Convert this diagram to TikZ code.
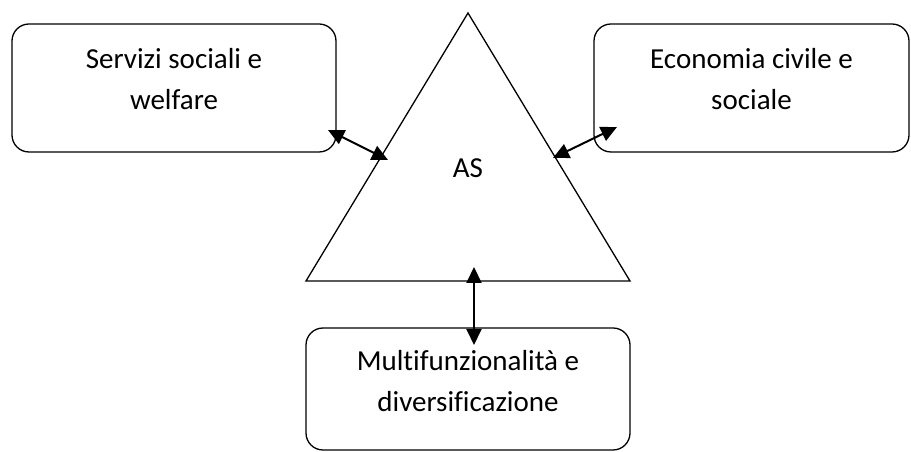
\documentclass[tikz,border=0pt]{standalone}
\usepackage{fontspec}
\setmainfont{Carlito}[Ligatures=NoCommon]
\usepackage{tikz}
\usetikzlibrary{shapes,arrows.meta,positioning,calc}
\tikzset{
	x=1pt, y=1pt, % one unit is one pixel of the layout
	box/.style={draw, line width=1.3pt, rounded corners=17pt, align=center, text height=50pt, text depth=6pt, font=\fontsize{29}{41}\selectfont}, % the three rounded boxes, text set near the top
	link/.style={<->, >={Triangle[length=16pt, width=15pt]}, line width=2pt}, % double headed arrows
}

\begin{document}
\begin{tikzpicture}
	\useasboundingbox (0,0) rectangle (911,452);
	\node[box, minimum width=324pt, minimum height=128pt] (SERVIZI) at (174,364) {Servizi sociali e\\welfare};
	\node[box, minimum width=315pt, minimum height=128pt] (ECONOMIA) at (751.5,364) {Economia civile e\\sociale};
	\node[box, minimum width=324pt, minimum height=122pt, text height=52pt] (MULTI) at (468,63) {Multifunzionalità e\\diversificazione};

	\coordinate (TOP) at (468,439);
	\coordinate (LEFT) at (306,171);
	\coordinate (RIGHT) at (630,171);
	\draw[line width=1.3pt, line join=miter] (TOP) -- (LEFT) -- (RIGHT) -- cycle;
	\node[font=\fontsize{29}{41}\selectfont] (AS) at (468,284) {AS};

	\coordinate (SERVIZI_END) at (328,322);
	\coordinate (AS_LEFT) at (388,292);
	\coordinate (ECONOMIA_END) at (617,325);
	\coordinate (AS_RIGHT) at (553,294);
	\coordinate (AS_BOTTOM) at (474,185);
	\coordinate (MULTI_END) at (474,107);

	\draw[link] (SERVIZI_END) -- (AS_LEFT);
	\draw[link] (AS_RIGHT) -- (ECONOMIA_END);
	\draw[link] (AS_BOTTOM) -- (MULTI_END);
\end{tikzpicture}
\end{document}
